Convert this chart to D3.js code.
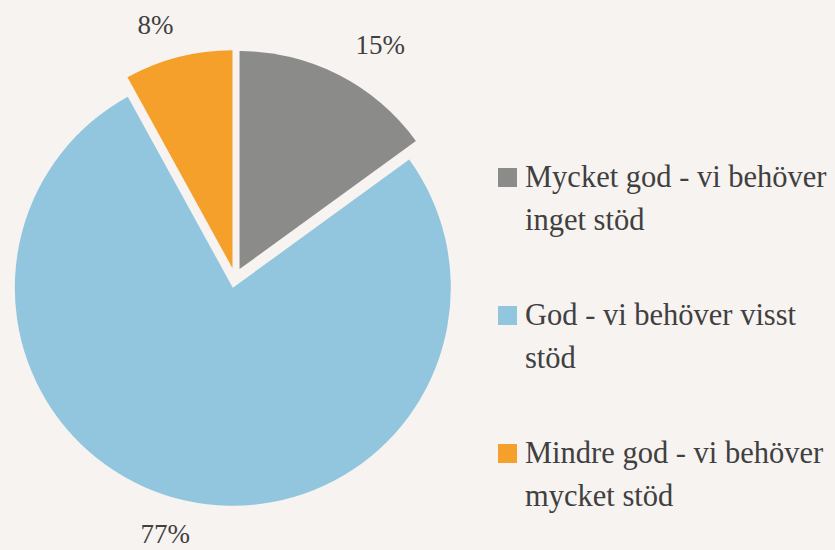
<!DOCTYPE html>
<html>
<head>
<meta charset="utf-8">
<script src="https://d3js.org/d3.v7.min.js"></script>
<style>
  body { margin: 0; background: #f7f3f0; }
  svg { display: block; }
</style>
</head>
<body>
<div id="chart"></div>
<script>
  // data
  let categories = ['Mycket god - vi behöver inget stöd', 'God - vi behöver visst stöd', 'Mindre god - vi behöver mycket stöd'];
  let legendLines = [['Mycket god - vi behöver', 'inget stöd'], ['God - vi behöver visst', 'stöd'], ['Mindre god - vi behöver', 'mycket stöd']];
  let values = [15, 77, 8];
  let colors = ['#8b8b89', '#92c6df', '#f5a02a'];

  let width = 835, height = 550;
  let cx = 235, cy = 278, radius = 218, explode = 10;
  let font = 'Liberation Serif';

  let svg = d3.select('#chart').append('svg')
    .attr('width', width)
    .attr('height', height);

  let pie = d3.pie().sort(null).value(d => d)(values);
  let arc = d3.arc().innerRadius(0).outerRadius(radius);

  let g = svg.append('g').attr('transform', 'translate(' + cx + ',' + cy + ')');

  g.selectAll('path')
    .data(pie)
    .enter().append('path')
    .attr('d', arc)
    .attr('fill', (d, i) => colors[i])
    .attr('transform', d => {
      let a = (d.startAngle + d.endAngle) / 2;
      return 'translate(' + (explode * Math.sin(a)) + ',' + (-explode * Math.cos(a)) + ')';
    });

  // percentage labels, outside the pie
  g.selectAll('text.lbl')
    .data(pie)
    .enter().append('text')
    .attr('class', 'lbl')
    .attr('x', d => 320 * Math.sin((d.startAngle + d.endAngle) / 2))
    .attr('y', d => -262 * Math.cos((d.startAngle + d.endAngle) / 2))
    .attr('dy', '0.35em')
    .attr('text-anchor', 'middle')
    .attr('font-family', font)
    .attr('font-size', 27)
    .attr('fill', '#404040')
    .text(d => d.data + '%');

  // legend
  let legend = svg.selectAll('g.leg')
    .data(categories)
    .enter().append('g')
    .attr('class', 'leg')
    .attr('transform', (d, i) => 'translate(498,' + (187 + i * 138) + ')');

  legend.append('rect')
    .attr('x', 0).attr('y', -19)
    .attr('width', 19).attr('height', 19)
    .attr('fill', (d, i) => colors[i]);

  legend.append('text')
    .attr('x', 27)
    .attr('font-family', font)
    .attr('font-size', 30.5)
    .attr('fill', '#404040')
    .selectAll('tspan')
    .data((d, i) => legendLines[i])
    .enter().append('tspan')
    .attr('x', 27)
    .attr('dy', (d, j) => j === 0 ? 0 : 43)
    .text(d => d);
</script>
</body>
</html>
